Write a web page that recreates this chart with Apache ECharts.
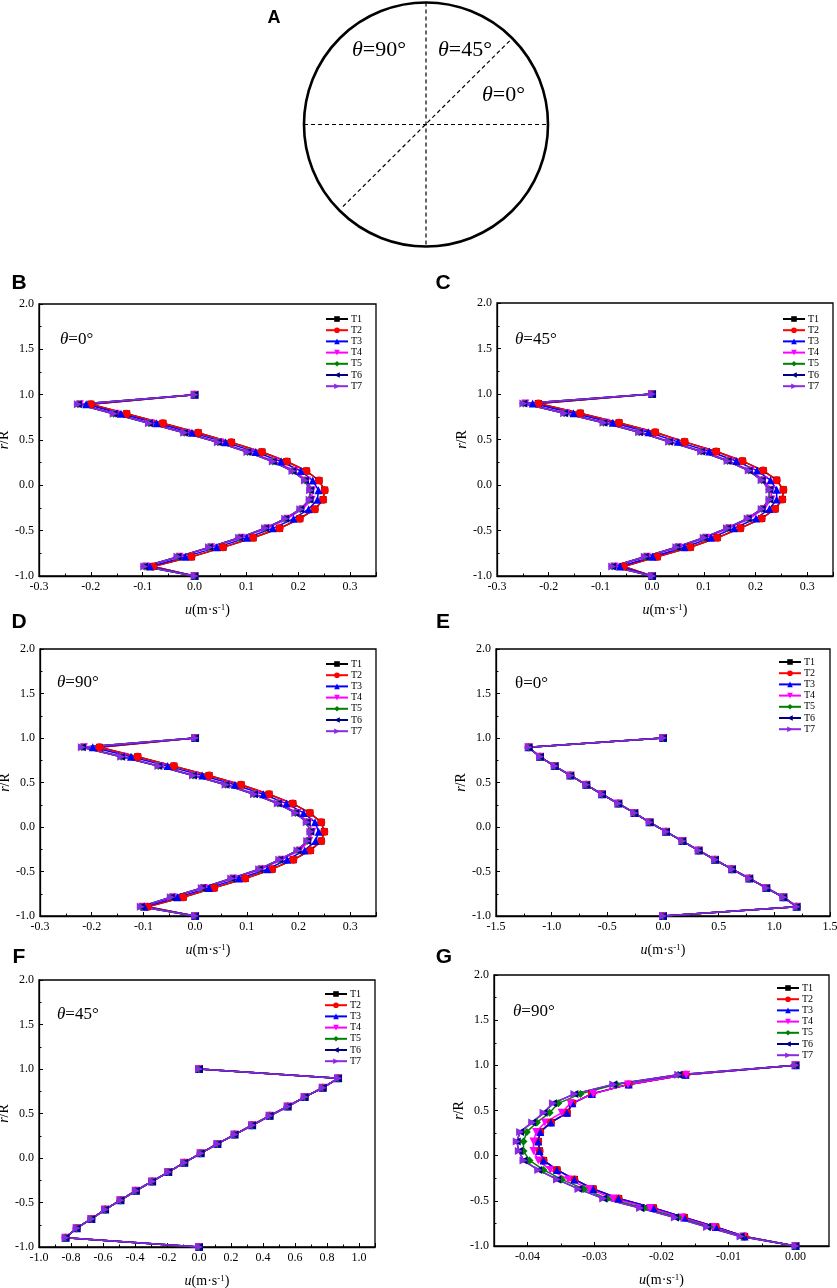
<!DOCTYPE html>
<html>
<head>
<meta charset="utf-8">
<script src="https://cdn.jsdelivr.net/npm/echarts@6/dist/echarts.min.js"></script>
<style>
  html, body { margin: 0; padding: 0; background: #fff; }
  #chart { width: 837px; height: 1288px; }
</style>
</head>
<body>
<div id="chart"></div>
<script>
// r/R positions of the 20 measuring points (top to bottom)
const rPos = [1.000, 0.895, 0.789, 0.684, 0.579, 0.474, 0.368, 0.263, 0.158, 0.053,
  -0.053, -0.158, -0.263, -0.368, -0.474, -0.579, -0.684, -0.789, -0.895, -1.000];

const seriesNames = ['T1', 'T2', 'T3', 'T4', 'T5', 'T6', 'T7'];
const seriesColors = ['#000000', '#ff0000', '#0000ff', '#ff00ff', '#008000', '#000080', '#8a2be2'];
const seriesSymbols = ['rect', 'circle', 'triangle', 'triangle', 'diamond', 'triangle', 'triangle'];
const symbolTurns = [0, 0, 0, 180, 0, 90, -90];

// B  theta = 0
const bRed = [0, -0.200, -0.131, -0.061, 0.007, 0.071, 0.130, 0.178, 0.216, 0.240, 0.251, 0.248, 0.232, 0.203, 0.164, 0.113, 0.055, -0.006, -0.080, 0];
const bBlue = [0, -0.209, -0.142, -0.073, -0.005, 0.060, 0.118, 0.167, 0.205, 0.228, 0.239, 0.237, 0.220, 0.191, 0.151, 0.101, 0.043, -0.018, -0.086, 0];
const bMagenta = [0, -0.221, -0.152, -0.084, -0.016, 0.049, 0.106, 0.155, 0.193, 0.217, 0.227, 0.226, 0.208, 0.179, 0.140, 0.090, 0.032, -0.029, -0.094, 0];
const bPurple = [0, -0.225, -0.156, -0.088, -0.020, 0.045, 0.102, 0.151, 0.189, 0.213, 0.223, 0.222, 0.204, 0.175, 0.136, 0.086, 0.028, -0.033, -0.097, 0];

// C  theta = 45
const cRed = [0, -0.220, -0.139, -0.064, 0.006, 0.063, 0.124, 0.175, 0.215, 0.241, 0.254, 0.252, 0.238, 0.212, 0.171, 0.126, 0.074, 0.010, -0.055, 0];
const cBlue = [0, -0.231, -0.152, -0.076, -0.007, 0.050, 0.111, 0.163, 0.203, 0.229, 0.241, 0.241, 0.227, 0.201, 0.159, 0.114, 0.063, 0.001, -0.062, 0];
const cMagenta = [0, -0.245, -0.166, -0.090, -0.021, 0.037, 0.099, 0.150, 0.191, 0.216, 0.231, 0.231, 0.216, 0.189, 0.149, 0.104, 0.051, -0.010, -0.073, 0];
const cPurple = [0, -0.249, -0.170, -0.094, -0.025, 0.033, 0.095, 0.146, 0.187, 0.212, 0.227, 0.227, 0.212, 0.185, 0.145, 0.100, 0.047, -0.014, -0.077, 0];

// D  theta = 90
const dRed = [0, -0.185, -0.111, -0.041, 0.027, 0.089, 0.143, 0.189, 0.222, 0.244, 0.250, 0.244, 0.223, 0.190, 0.149, 0.097, 0.037, -0.023, -0.092, 0];
const dBlue = [0, -0.198, -0.124, -0.053, 0.014, 0.077, 0.132, 0.177, 0.210, 0.232, 0.239, 0.233, 0.212, 0.178, 0.140, 0.085, 0.027, -0.034, -0.098, 0];
const dMagenta = [0, -0.215, -0.139, -0.067, 0.000, 0.063, 0.118, 0.164, 0.198, 0.220, 0.227, 0.221, 0.202, 0.167, 0.128, 0.074, 0.017, -0.043, -0.102, 0];
const dPurple = [0, -0.219, -0.143, -0.071, -0.004, 0.059, 0.114, 0.160, 0.194, 0.216, 0.223, 0.217, 0.198, 0.163, 0.124, 0.070, 0.013, -0.047, -0.105, 0];

// E  theta = 0 (all runs coincide)
const eAll = [0, -1.207, -1.105, -0.973, -0.832, -0.689, -0.548, -0.401, -0.257, -0.120, 0.027, 0.174, 0.320, 0.467, 0.620, 0.775, 0.928, 1.081, 1.200, 0];

// F  theta = 45 (all runs coincide)
const fAll = [0, 0.869, 0.773, 0.660, 0.554, 0.441, 0.332, 0.222, 0.115, 0.010, -0.092, -0.192, -0.293, -0.395, -0.491, -0.587, -0.673, -0.765, -0.834, 0];

// G  theta = 90
const gRed = [0, -0.0164, -0.0249, -0.0304, -0.0333, -0.0341, -0.0365, -0.0381, -0.0384, -0.0382, -0.0376, -0.0356, -0.0330, -0.0302, -0.0264, -0.0212, -0.0166, -0.0119, -0.0076, 0];
const gMagenta = [0, -0.0163, -0.0250, -0.0302, -0.0336, -0.0349, -0.0374, -0.0387, -0.0391, -0.0391, -0.0384, -0.0366, -0.0339, -0.0308, -0.0272, -0.0217, -0.0170, -0.0123, -0.0078, 0];
const gGreen = [0, -0.0175, -0.0267, -0.0321, -0.0354, -0.0367, -0.0386, -0.0401, -0.0406, -0.0406, -0.0397, -0.0376, -0.0349, -0.0316, -0.0281, -0.0226, -0.0175, -0.0128, -0.0080, 0];
const gPurple = [0, -0.0175, -0.0272, -0.0330, -0.0362, -0.0376, -0.0393, -0.0411, -0.0416, -0.0413, -0.0406, -0.0384, -0.0356, -0.0324, -0.0287, -0.0232, -0.0180, -0.0132, -0.0082, 0];
const gTicks = [-0.04, -0.03, -0.02, -0.01, 0.00];
const gMinorTicks = [-0.035, -0.025, -0.015, -0.005];

const serif = '"Liberation Serif", "Times New Roman", serif';
const sans = '"Liberation Sans", Arial, sans-serif';

const panels = [
  { letter: 'B', note: '{i|θ}=0°', grid: { left: 39, top: 304, width: 337, height: 272 },
    xMin: -0.3, xMax: 0.35, xStep: 0.1, digits: 1, legendAt: [325, 314], noteAt: [60, 340], letterAt: [19, 283],
    runs: [bRed, bRed, bBlue, bMagenta, bPurple, bPurple, bPurple] },
  { letter: 'C', note: '{i|θ}=45°', grid: { left: 497, top: 303, width: 336, height: 273 },
    xMin: -0.3, xMax: 0.35, xStep: 0.1, digits: 1, legendAt: [782, 314], noteAt: [515, 340], letterAt: [443, 283],
    runs: [cRed, cRed, cBlue, cMagenta, cPurple, cPurple, cPurple] },
  { letter: 'D', note: '{i|θ}=90°', grid: { left: 40, top: 649, width: 336, height: 267 },
    xMin: -0.3, xMax: 0.35, xStep: 0.1, digits: 1, legendAt: [325, 659], noteAt: [57, 683], letterAt: [19, 622],
    runs: [dRed, dRed, dBlue, dMagenta, dPurple, dPurple, dPurple] },
  { letter: 'E', note: 'θ=0°', grid: { left: 496, top: 649, width: 334, height: 267 },
    xMin: -1.5, xMax: 1.5, xStep: 0.5, digits: 1, legendAt: [778, 657], noteAt: [515, 684], letterAt: [443, 622],
    runs: [eAll, eAll, eAll, eAll, eAll, eAll, eAll] },
  { letter: 'F', note: '{i|θ}=45°', grid: { left: 39, top: 980, width: 336, height: 267 },
    xMin: -1.0, xMax: 1.1, xStep: 0.2, digits: 1, legendAt: [324, 989], noteAt: [57, 1015], letterAt: [19, 957],
    runs: [fAll, fAll, fAll, fAll, fAll, fAll, fAll] },
  { letter: 'G', note: '{i|θ}=90°', grid: { left: 494, top: 975, width: 335, height: 271 },
    xMin: -0.045, xMax: 0.005, xStep: null, digits: 2, legendAt: [776, 983], noteAt: [513, 1012], letterAt: [444, 957],
    runs: [gRed, gRed, gRed, gMagenta, gGreen, gPurple, gPurple] }
];

const labelStyle = { fontFamily: serif, fontSize: 12, color: '#000' };

function buildOption() {
  const grids = [], xAxes = [], yAxes = [], series = [], legends = [], elements = [];

  panels.forEach((p, i) => {
    grids.push(Object.assign({
      show: true, borderColor: '#000', borderWidth: 1.3, backgroundColor: 'transparent',
      containLabel: false, outerBoundsMode: 'none'
    }, p.grid));

    const xAxis = {
      type: 'value', gridIndex: i, min: p.xMin, max: p.xMax,
      name: '{i|u}{n|(m·s}{s|-1}{n|)}', nameLocation: 'middle', nameGap: 27,
      nameTextStyle: {
        fontFamily: serif, fontSize: 14, color: '#000',
        rich: {
          i: { fontFamily: serif, fontSize: 14, fontStyle: 'italic', color: '#000' },
          n: { fontFamily: serif, fontSize: 14, color: '#000' },
          s: { fontFamily: serif, fontSize: 9, color: '#000', verticalAlign: 'top' }
        }
      },
      axisLine: { onZero: false, lineStyle: { color: '#000', width: 1.3 } },
      axisTick: { inside: true, length: 4, lineStyle: { color: '#000' } },
      minorTick: { show: true, splitNumber: 2, length: 2.5, lineStyle: { color: '#000' } },
      splitLine: { show: false },
      axisLabel: Object.assign({ margin: 5, showMaxLabel: p.xMax === 1.5, formatter: v => v.toFixed(p.digits) }, labelStyle)
    };
    if (p.xStep) {
      xAxis.interval = p.xStep;
    } else {
      xAxis.minorTick = { show: false };
      xAxis.axisTick.customValues = gTicks;
      xAxis.axisLabel.customValues = gTicks;
      xAxis.axisLabel.showMaxLabel = true;
    }
    xAxes.push(xAxis);

    yAxes.push({
      type: 'value', gridIndex: i, min: -1, max: 2, interval: 0.5,
      name: '{i|r}{n|/R}', nameLocation: 'middle', nameGap: 20, nameRotate: 90,
      nameTextStyle: {
        fontFamily: serif, fontSize: 14, color: '#000',
        rich: {
          i: { fontFamily: serif, fontSize: 14, fontStyle: 'italic', color: '#000' },
          n: { fontFamily: serif, fontSize: 14, color: '#000' }
        }
      },
      axisLine: { onZero: false, lineStyle: { color: '#000', width: 1.3 } },
      axisTick: { inside: true, length: 4, lineStyle: { color: '#000' } },
      minorTick: { show: true, splitNumber: 2, length: 2.5, lineStyle: { color: '#000' } },
      splitLine: { show: false },
      axisLabel: Object.assign({ margin: 5, formatter: v => v.toFixed(1) }, labelStyle)
    });

    p.runs.forEach((vals, k) => {
      series.push({
        name: seriesNames[k], type: 'line', xAxisIndex: i, yAxisIndex: i,
        data: vals.map((v, j) => [v, rPos[j]]),
        symbol: seriesSymbols[k], symbolSize: k === 0 ? 7 : 8, symbolRotate: symbolTurns[k],
        itemStyle: { color: seriesColors[k] },
        lineStyle: { color: seriesColors[k], width: 1.5 },
        emphasis: { disabled: true },
        animation: false
      });
    });

    legends.push({
      data: seriesNames, orient: 'vertical', left: p.legendAt[0], top: p.legendAt[1],
      itemWidth: 22, itemHeight: 7, itemGap: 1.2, selectedMode: false, symbolRotate: 'inherit',
      padding: 0,
      textStyle: { fontFamily: serif, fontSize: 10, lineHeight: 10, color: '#000', padding: [0, 0, 0, -2] }
    });

    elements.push({
      type: 'text', x: p.letterAt[0], y: p.letterAt[1],
      style: { text: p.letter, font: 'bold 21px ' + sans, fill: '#000', align: 'center', verticalAlign: 'middle' }
    });
    elements.push({
      type: 'text', x: p.noteAt[0], y: p.noteAt[1],
      style: {
        text: p.note, fill: '#000', align: 'left', verticalAlign: 'middle',
        font: '17px ' + serif,
        rich: { i: { fontStyle: 'italic', fontFamily: serif, fontSize: 17 } }
      }
    });
  });

  // extra axis carrying the minor ticks of panel G
  xAxes.push({
    type: 'value', gridIndex: 5, min: -0.045, max: 0.005, position: 'bottom',
    axisLine: { show: false, onZero: false }, splitLine: { show: false }, axisLabel: { show: false },
    axisTick: { inside: true, length: 2.5, customValues: gMinorTicks, lineStyle: { color: '#000' } }
  });

  // panel A: cross-section sketch
  const cx = 426, cy = 124.5, rad = 122;
  const dash = { stroke: '#000', lineWidth: 1.2, lineDash: [4, 3] };
  elements.push(
    { type: 'text', x: 274, y: 18, style: { text: 'A', font: 'bold 18px ' + sans, fill: '#000', align: 'center', verticalAlign: 'middle' } },
    { type: 'line', shape: { x1: cx - rad, y1: cy, x2: cx + rad, y2: cy }, style: dash },
    { type: 'line', shape: { x1: cx, y1: cy - rad, x2: cx, y2: cy + rad }, style: dash },
    { type: 'line', shape: { x1: cx - 83, y1: cy + 82, x2: cx + 86, y2: cy - 86 }, style: dash },
    { type: 'circle', shape: { cx: cx, cy: cy, r: rad }, style: { fill: 'none', stroke: '#000', lineWidth: 2.6 } }
  );
  [['{i|θ}=90°', 352, 50], ['{i|θ}=45°', 438, 50], ['{i|θ}=0°', 482, 95]].forEach(t => {
    elements.push({
      type: 'text', x: t[1], y: t[2],
      style: {
        text: t[0], fill: '#000', align: 'left', verticalAlign: 'middle', font: '22px ' + serif,
        rich: { i: { fontStyle: 'italic', fontFamily: serif, fontSize: 22 } }
      }
    });
  });

  return {
    backgroundColor: '#fff',
    animation: false,
    grid: grids, xAxis: xAxes, yAxis: yAxes, series: series, legend: legends,
    graphic: { elements: elements }
  };
}

document.addEventListener('DOMContentLoaded', function () {
  const myChart = echarts.init(document.getElementById('chart'));
  myChart.setOption(buildOption());
});
</script>
</body>
</html>
